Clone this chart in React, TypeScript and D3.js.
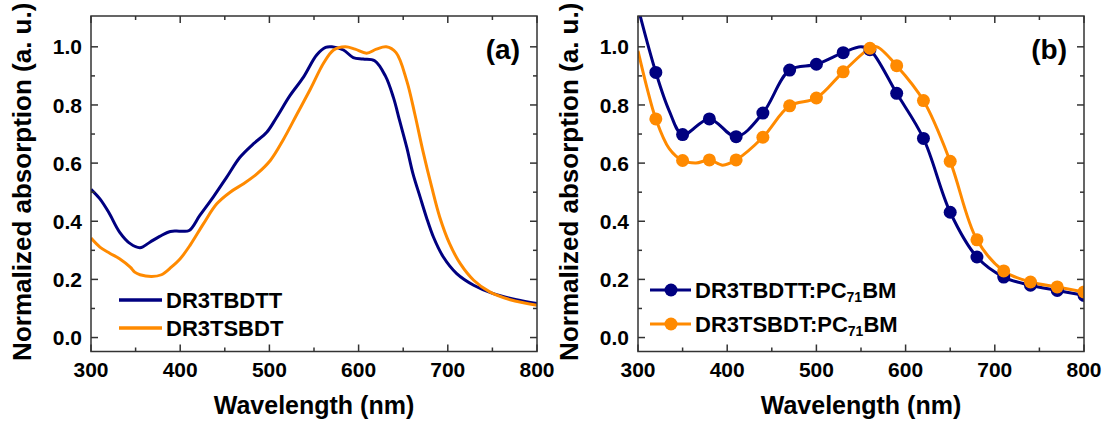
import React from 'react'
import * as d3 from 'd3'

// (a) films
const filmTbdttWl = [300, 310, 320, 332, 344, 355, 366, 377, 389, 400, 410, 422, 437, 452, 467, 482, 497, 508, 523, 538, 553, 563, 570, 583, 594, 605, 618, 630, 639, 646, 654, 661, 669, 676, 684, 695, 710, 729, 751, 777, 800]
const filmTbdttAbs = [0.51, 0.477, 0.43, 0.363, 0.323, 0.309, 0.328, 0.348, 0.365, 0.366, 0.368, 0.42, 0.483, 0.551, 0.62, 0.666, 0.706, 0.757, 0.832, 0.895, 0.972, 0.998, 1.0, 0.989, 0.963, 0.958, 0.952, 0.9, 0.826, 0.746, 0.654, 0.563, 0.483, 0.414, 0.345, 0.277, 0.22, 0.18, 0.151, 0.13, 0.117]
const filmTsbdtWl = [300, 310, 321, 332, 344, 349, 355, 368, 379, 390, 400, 411, 426, 441, 456, 471, 486, 501, 516, 531, 546, 561, 572, 585, 596, 609, 620, 631, 642, 654, 663, 672, 682, 691, 702, 714, 729, 747, 770, 800]
const filmTsbdtAbs = [0.342, 0.311, 0.29, 0.271, 0.242, 0.225, 0.216, 0.21, 0.216, 0.242, 0.271, 0.317, 0.391, 0.46, 0.5, 0.529, 0.563, 0.609, 0.683, 0.769, 0.855, 0.945, 0.989, 1.0, 0.992, 0.978, 0.992, 1.0, 0.98, 0.883, 0.769, 0.643, 0.517, 0.414, 0.323, 0.254, 0.197, 0.157, 0.13, 0.111]

// (b) blends: symbols
const blendWl = [320, 350, 380, 410, 440, 470, 500, 530, 560, 590, 620, 650, 680, 710, 740, 770, 800]
const blendTbdttMarks = [0.912, 0.698, 0.752, 0.691, 0.772, 0.92, 0.94, 0.98, 0.99, 0.84, 0.685, 0.431, 0.277, 0.208, 0.18, 0.162, 0.145]
const blendTsbdtMarks = [0.752, 0.609, 0.611, 0.611, 0.689, 0.797, 0.824, 0.914, 0.995, 0.935, 0.815, 0.606, 0.336, 0.229, 0.191, 0.174, 0.157]

// (b) blends: traced lines
const blendTbdttLineWl = [300, 320, 335, 350, 380, 410, 440, 470, 500, 530, 550, 560, 590, 620, 650, 680, 710, 740, 770, 800]
const blendTbdttLineAbs = [1.135, 0.912, 0.78, 0.698, 0.752, 0.691, 0.772, 0.92, 0.94, 0.98, 1.0, 0.99, 0.84, 0.685, 0.431, 0.277, 0.208, 0.18, 0.162, 0.145]
const blendTsbdtLineWl = [300, 310, 320, 335, 350, 365, 380, 395, 410, 440, 470, 500, 530, 560, 568, 590, 620, 650, 680, 710, 740, 770, 800]
const blendTsbdtLineAbs = [0.986, 0.86, 0.752, 0.65, 0.609, 0.6, 0.611, 0.593, 0.611, 0.689, 0.797, 0.824, 0.914, 0.995, 1.0, 0.935, 0.815, 0.606, 0.336, 0.229, 0.191, 0.174, 0.157]

const xMajor = [300, 400, 500, 600, 700, 800]
const xMinor = [350, 450, 550, 650, 750]
const yMajor = [0, 0.2, 0.4, 0.6, 0.8, 1.0]
const yMinor = [0.1, 0.3, 0.5, 0.7, 0.9]

const NAVY = '#000080'
const ORANGE = '#ff8a00'
const AXIS = '#333'
const FONT = 'Arial, "Liberation Sans", sans-serif'

const top = 16
const bottom = 351.5

type Series = { wl: number[]; abs: number[]; color: string }

function Panel({ x0, x1, id, label, lines, marks, legend }: {
  x0: number; x1: number; id: string; label: string
  lines: Series[]; marks: Series[]
  legend: React.ReactNode
}) {
  const x = d3.scaleLinear().domain([300, 800]).range([x0, x1])
  const y = d3.scaleLinear().domain([-0.048, 1.106]).range([bottom, top])
  const line = d3.line<[number, number]>()
    .x(d => x(d[0])).y(d => y(d[1]))
    .curve(d3.curveCatmullRom.alpha(0.5))

  return (
    <g>
      <defs>
        <clipPath id={id}>
          <rect x={x0} y={top} width={x1 - x0} height={bottom - top} />
        </clipPath>
      </defs>
      <g clipPath={`url(#${id})`}>
        {lines.map((s, i) => (
          <path key={i} d={line(s.wl.map((w, j) => [w, s.abs[j]] as [number, number])) || ''}
            fill='none' stroke={s.color} strokeWidth={3} />
        ))}
        {marks.map((s, i) => (
          <g key={i}>
            {s.wl.map((w, j) => (
              <circle key={j} cx={x(w)} cy={y(s.abs[j])} r={6.5} fill={s.color} />
            ))}
          </g>
        ))}
      </g>
      <rect x={x0} y={top} width={x1 - x0} height={bottom - top} fill='none' stroke={AXIS} strokeWidth={1.5} />
      {xMajor.map(t => (
        <g key={'xM' + t}>
          <line x1={x(t)} x2={x(t)} y1={bottom} y2={bottom - 7} stroke={AXIS} strokeWidth={1.5} />
          <line x1={x(t)} x2={x(t)} y1={top} y2={top + 7} stroke={AXIS} strokeWidth={1.5} />
          <text x={x(t)} y={377} textAnchor='middle' fontSize={21} fontWeight='bold'>{t}</text>
        </g>
      ))}
      {xMinor.map(t => (
        <g key={'xm' + t}>
          <line x1={x(t)} x2={x(t)} y1={bottom} y2={bottom - 4} stroke={AXIS} strokeWidth={1.5} />
          <line x1={x(t)} x2={x(t)} y1={top} y2={top + 4} stroke={AXIS} strokeWidth={1.5} />
        </g>
      ))}
      {yMajor.map(t => (
        <g key={'yM' + t}>
          <line x1={x0} x2={x0 + 7} y1={y(t)} y2={y(t)} stroke={AXIS} strokeWidth={1.5} />
          <line x1={x1} x2={x1 - 7} y1={y(t)} y2={y(t)} stroke={AXIS} strokeWidth={1.5} />
          <text x={x0 - 9} y={y(t)} dy='0.36em' textAnchor='end' fontSize={21} fontWeight='bold'>{t.toFixed(1)}</text>
        </g>
      ))}
      {yMinor.map(t => (
        <g key={'ym' + t}>
          <line x1={x0} x2={x0 + 4} y1={y(t)} y2={y(t)} stroke={AXIS} strokeWidth={1.5} />
          <line x1={x1} x2={x1 - 4} y1={y(t)} y2={y(t)} stroke={AXIS} strokeWidth={1.5} />
        </g>
      ))}
      <text x={(x0 + x1) / 2} y={414} textAnchor='middle' fontSize={25} fontWeight='bold'>Wavelength (nm)</text>
      <text transform={`translate(${x0 - 60},${(top + bottom) / 2 - 2}) rotate(-90)`} textAnchor='middle'
        fontSize={26} fontWeight='bold'>Normalized absorption (a. u.)</text>
      <text x={x1 - 17} y={59} textAnchor='end' fontSize={28} fontWeight='bold'>{label}</text>
      {legend}
    </g>
  )
}

export default function App() {
  const filmLines: Series[] = [
    { wl: filmTbdttWl, abs: filmTbdttAbs, color: NAVY },
    { wl: filmTsbdtWl, abs: filmTsbdtAbs, color: ORANGE },
  ]
  const blendLines: Series[] = [
    { wl: blendTbdttLineWl, abs: blendTbdttLineAbs, color: NAVY },
    { wl: blendTsbdtLineWl, abs: blendTsbdtLineAbs, color: ORANGE },
  ]
  const blendMarks: Series[] = [
    { wl: blendWl, abs: blendTbdttMarks, color: NAVY },
    { wl: blendWl, abs: blendTsbdtMarks, color: ORANGE },
  ]

  const legendA = (
    <g>
      {[['DR3TBDTT', NAVY, 300], ['DR3TSBDT', ORANGE, 328]].map(([name, c, ly]) => (
        <g key={name as string}>
          <line x1={119} x2={162} y1={ly as number} y2={ly as number} stroke={c as string} strokeWidth={3.5} />
          <text x={166} y={ly as number} dy='0.36em' fontSize={22} fontWeight='bold'>{name}</text>
        </g>
      ))}
    </g>
  )
  const legendB = (
    <g>
      {[['DR3TBDTT:PC', NAVY, 290], ['DR3TSBDT:PC', ORANGE, 324]].map(([name, c, ly]) => (
        <g key={name as string}>
          <line x1={650} x2={691} y1={ly as number} y2={ly as number} stroke={c as string} strokeWidth={3} />
          <circle cx={671} cy={ly as number} r={6.5} fill={c as string} />
          <text x={695} y={(ly as number) + 7.5} fontSize={22} fontWeight='bold'>
            {name}<tspan fontSize={14} dy={4}>71</tspan><tspan dy={-4}>BM</tspan>
          </text>
        </g>
      ))}
    </g>
  )

  return (
    <svg width={1105} height={421} viewBox='0 0 1105 421'
      style={{ position: 'absolute', left: 0, top: 0, background: '#fff', fontFamily: FONT }}>
      <Panel x0={91} x1={537} id='clipA' label='(a)' lines={filmLines} marks={[]} legend={legendA} />
      <Panel x0={638} x1={1084} id='clipB' label='(b)' lines={blendLines} marks={blendMarks} legend={legendB} />
    </svg>
  )
}
